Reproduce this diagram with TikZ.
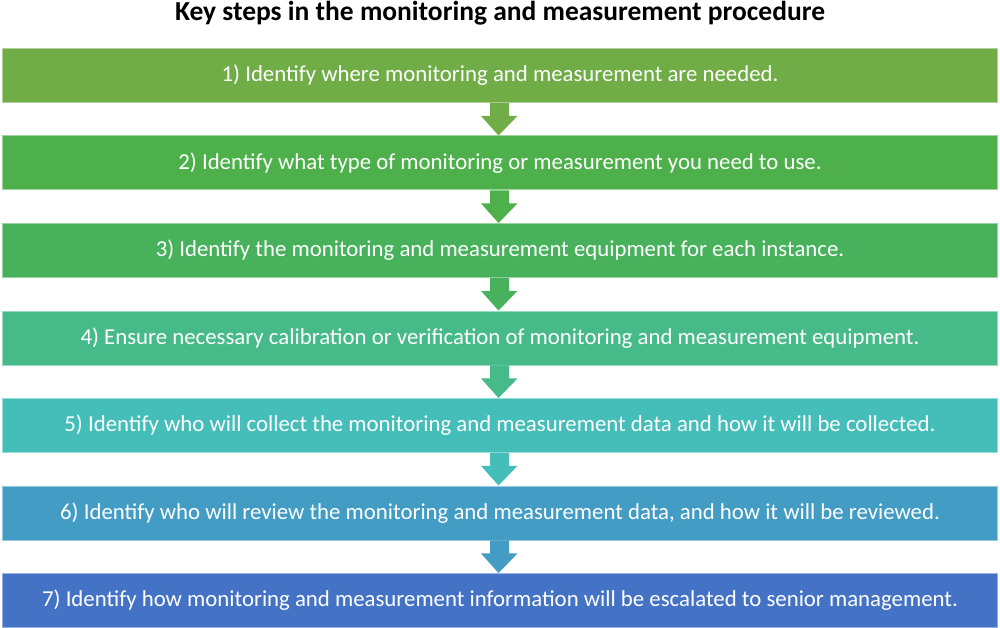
\documentclass[tikz,border=0pt]{standalone}
\usepackage{fontspec}
\setmainfont{Carlito}
\usetikzlibrary{calc}
\definecolor{c1}{HTML}{70AD47}
\definecolor{c2}{HTML}{4DB04A}
\definecolor{c3}{HTML}{48B15B}
\definecolor{c4}{HTML}{47BA8A}
\definecolor{c5}{HTML}{45BEB9}
\definecolor{c6}{HTML}{439CC4}
\definecolor{c7}{HTML}{4472C4}
\begin{document}
\begin{tikzpicture}[x=1pt,y=-1pt,
  stepbox/.style={fill=#1, draw=#1!55!white, line width=0.9pt, text=white,
    font=\fontsize{22.8}{26}\selectfont, minimum width=995pt, minimum height=54pt,
    inner sep=0pt, anchor=north},
  titlebox/.style={font=\bfseries\fontsize{27.5}{32}\selectfont, text=black, inner sep=0pt}]
\useasboundingbox (0,0) rectangle (1000,628);
\node[titlebox] (title) at (500,13) {Key steps in the monitoring and measurement procedure};
\node[stepbox=c1] (b1) at (500,48)    {1) Identify where monitoring and measurement are needed.};
\node[stepbox=c2] (b2) at (500,135.5) {2) Identify what type of monitoring or measurement you need to use.};
\node[stepbox=c3] (b3) at (500,223)   {3) Identify the monitoring and measurement equipment for each instance.};
\node[stepbox=c4] (b4) at (500,310.5) {4) Ensure necessary calibration or verification of monitoring and measurement equipment.};
\node[stepbox=c5] (b5) at (500,398)   {5) Identify who will collect the monitoring and measurement data and how it will be collected.};
\node[stepbox=c6] (b6) at (500,485.5) {6) Identify who will review the monitoring and measurement data, and how it will be reviewed.};
\node[stepbox=c7] (b7) at (500,573)   {7) Identify how monitoring and measurement information will be escalated to senior management.};
\foreach \a/\b/\c in {b1/b2/c1,b2/b3/c2,b3/b4/c3,b4/b5/c4,b5/b6/c5,b6/b7/c6}{
  \fill[\c] ($(\a.south)+(-10,0)$) -- ($(\a.south)+(9,0)$) -- ($(\a.south)+(9,13)$)
    -- ($(\a.south)+(17.5,13)$) -- ($(\b.north)+(-1.5,0)$) -- ($(\a.south)+(-19,13)$)
    -- ($(\a.south)+(-10,13)$) -- cycle;
}
\end{tikzpicture}
\end{document}
